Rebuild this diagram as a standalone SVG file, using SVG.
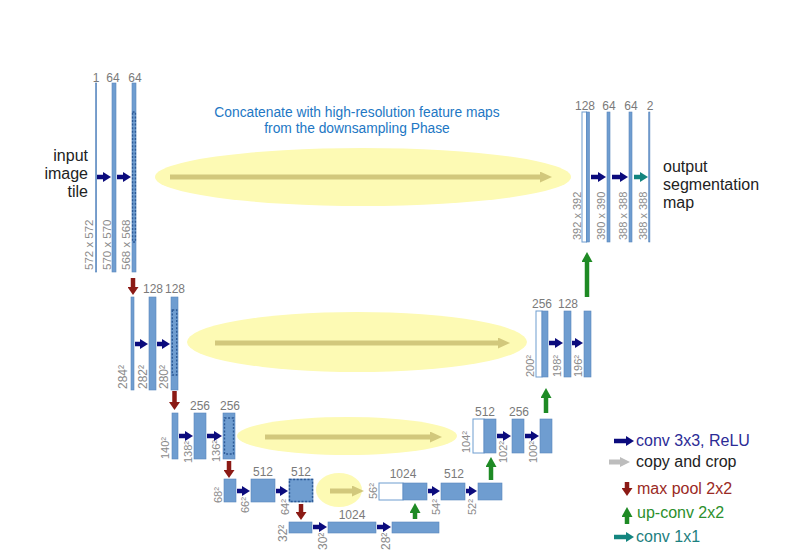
<svg xmlns="http://www.w3.org/2000/svg" width="800" height="552" viewBox="0 0 800 552">
<style>
.bar{fill:#6f9dd0;stroke:#5986bd;stroke-width:0.6}
.wbar{fill:#fff;stroke:#6f9dd0;stroke-width:1}
.dot{fill:none;stroke:#2d5a96;stroke-width:1.4;stroke-dasharray:2 1.6}
.cnt{font-family:"Liberation Sans",Arial,sans-serif;font-size:12px;fill:#7a7a7a;text-anchor:middle}
.dim{font-family:"Liberation Sans",Arial,sans-serif;font-size:11px;fill:#8a8a8a}
.lbl{font-family:"Liberation Sans",Arial,sans-serif;font-size:16px;fill:#222}
.ttl{font-family:"Liberation Sans",Arial,sans-serif;font-size:13.8px;fill:#2277c4;text-anchor:middle}
.ell{fill:#fdfab4}
.conv{stroke:#0b0b7d;stroke-width:4.5;fill:none}
.teal{stroke:#13857f;stroke-width:4.5;fill:none}
.pool{stroke:#8b1a15;stroke-width:4.5;fill:none}
.up{stroke:#1e8a24;stroke-width:4.5;fill:none}
.copy{stroke:#d2c87c;stroke-width:5;fill:none}
.lcopy{stroke:#bdbdbd;stroke-width:5;fill:none}
</style>
<defs>
<marker id="hConv" markerUnits="userSpaceOnUse" markerWidth="8" markerHeight="10" refX="0" refY="5" orient="auto" viewBox="0 0 8 10"><path d="M0,0L8,5L0,10z" fill="#0b0b7d"/></marker>
<marker id="hTeal" markerUnits="userSpaceOnUse" markerWidth="8" markerHeight="10" refX="0" refY="5" orient="auto" viewBox="0 0 8 10"><path d="M0,0L8,5L0,10z" fill="#13857f"/></marker>
<marker id="hPool" markerUnits="userSpaceOnUse" markerWidth="8" markerHeight="11" refX="0" refY="5.5" orient="auto" viewBox="0 0 8 11"><path d="M0,0L8,5.5L0,11z" fill="#8b1a15"/></marker>
<marker id="hUp" markerUnits="userSpaceOnUse" markerWidth="10" markerHeight="11" refX="0" refY="5.5" orient="auto" viewBox="0 0 10 11"><path d="M0,0L10,5.5L0,11z" fill="#1e8a24"/></marker>
<marker id="hCopy" markerUnits="userSpaceOnUse" markerWidth="12" markerHeight="11" refX="0" refY="5.5" orient="auto" viewBox="0 0 12 11"><path d="M0,0L12,5.5L0,11z" fill="#d2c87c"/></marker>
<marker id="hLCopy" markerUnits="userSpaceOnUse" markerWidth="10" markerHeight="10" refX="0" refY="5" orient="auto" viewBox="0 0 10 10"><path d="M0,0L10,5L0,10z" fill="#bdbdbd"/></marker>
</defs>

<g id="skip-ellipses">
<ellipse class="ell" cx="363" cy="177" rx="208" ry="29"/>
<ellipse class="ell" cx="357" cy="342" rx="170" ry="30"/>
<ellipse class="ell" cx="347" cy="436" rx="110" ry="19"/>
<ellipse class="ell" cx="339" cy="490" rx="23" ry="17"/>
</g>

<g id="title">
<text class="ttl" x="357" y="117">Concatenate with high-resolution feature maps</text>
<text class="ttl" x="357" y="133">from the downsampling Phase</text>
</g>

<g id="input-label">
<text class="lbl" x="88" y="161" text-anchor="end">input</text>
<text class="lbl" x="88" y="179" text-anchor="end">image</text>
<text class="lbl" x="88" y="197" text-anchor="end">tile</text>
</g>
<g id="output-label">
<text class="lbl" x="663" y="172">output</text>
<text class="lbl" x="663" y="190">segmentation</text>
<text class="lbl" x="663" y="208">map</text>
</g>

<!-- Level 1 contracting -->
<g id="l1a"><rect class="bar" x="95.5" y="83" width="1.2" height="189"/><text class="cnt" x="96" y="82">1</text><text class="dim" style="font-size:11.5px" transform="translate(93,270) rotate(-90)">572 x 572</text></g>
<g id="l1b"><rect class="bar" x="112" y="83" width="4" height="189"/><text class="cnt" x="113" y="82">64</text><text class="dim" style="font-size:11.5px" transform="translate(111,270) rotate(-90)">570 x 570</text></g>
<g id="l1c"><rect class="bar" x="132" y="83" width="4" height="189"/><rect class="dot" x="132.6" y="112" width="2.8" height="130"/><text class="cnt" x="135" y="82">64</text><text class="dim" style="font-size:11.5px" transform="translate(130,270) rotate(-90)">568 x 568</text></g>

<!-- Level 1 expanding -->
<g id="r1a"><rect class="wbar" x="582" y="112" width="4.5" height="130"/><rect class="bar" x="586.5" y="112" width="3" height="130"/><text class="cnt" x="585" y="110">128</text><text class="dim" transform="translate(581,240) rotate(-90)">392 x 392</text></g>
<g id="r1b"><rect class="bar" x="607" y="112" width="3" height="130"/><text class="cnt" x="609" y="110">64</text><text class="dim" transform="translate(605,240) rotate(-90)">390 x 390</text></g>
<g id="r1c"><rect class="bar" x="629" y="112" width="3" height="130"/><text class="cnt" x="631" y="110">64</text><text class="dim" transform="translate(627,240) rotate(-90)">388 x 388</text></g>
<g id="r1d"><rect class="bar" x="648.7" y="112" width="1.2" height="130"/><text class="cnt" x="650" y="110">2</text><text class="dim" transform="translate(647,240) rotate(-90)">388 x 388</text></g>

<!-- Level 2 -->
<g id="l2a"><rect class="bar" x="131" y="297" width="3" height="93"/><text class="dim" style="font-size:12px" transform="translate(127,389) rotate(-90)">284²</text></g>
<g id="l2b"><rect class="bar" x="149" y="297" width="7" height="93"/><text class="cnt" x="153" y="293">128</text><text class="dim" style="font-size:12px" transform="translate(147,389) rotate(-90)">282²</text></g>
<g id="l2c"><rect class="bar" x="171" y="297" width="7" height="93"/><rect class="dot" x="172.3" y="310" width="4.4" height="65"/><text class="cnt" x="175" y="293">128</text><text class="dim" style="font-size:12px" transform="translate(168,389) rotate(-90)">280²</text></g>
<g id="r2a"><rect class="wbar" x="536" y="311" width="6" height="66"/><rect class="bar" x="542" y="311" width="6" height="66"/><text class="cnt" x="542" y="308">256</text><text class="dim" transform="translate(534,377) rotate(-90)">200²</text></g>
<g id="r2b"><rect class="bar" x="564" y="311" width="7" height="66"/><text class="cnt" x="568" y="308">128</text><text class="dim" transform="translate(561,377) rotate(-90)">198²</text></g>
<g id="r2c"><rect class="bar" x="584" y="311" width="7" height="66"/><text class="dim" transform="translate(582,377) rotate(-90)">196²</text></g>

<!-- Level 3 -->
<g id="l3a"><rect class="bar" x="172" y="413" width="6" height="46"/><text class="dim" transform="translate(169,459) rotate(-90)">140²</text></g>
<g id="l3b"><rect class="bar" x="194" y="413" width="12" height="46"/><text class="cnt" x="200" y="410">256</text><text class="dim" transform="translate(192,463) rotate(-90)">138²</text></g>
<g id="l3c"><rect class="bar" x="223" y="413" width="12" height="46"/><rect class="dot" x="224.5" y="418" width="9" height="36"/><text class="cnt" x="230" y="410">256</text><text class="dim" transform="translate(220,462) rotate(-90)">136²</text></g>
<g id="r3a"><rect class="wbar" x="473" y="419" width="11" height="34"/><rect class="bar" x="484" y="419" width="12" height="34"/><text class="cnt" x="485" y="416">512</text><text class="dim" transform="translate(470,453) rotate(-90)">104²</text></g>
<g id="r3b"><rect class="bar" x="512" y="419" width="12" height="34"/><text class="cnt" x="519" y="416">256</text><text class="dim" transform="translate(507,463) rotate(-90)">102²</text></g>
<g id="r3c"><rect class="bar" x="540" y="419" width="12" height="34"/><text class="dim" transform="translate(537,463) rotate(-90)">100²</text></g>

<!-- Level 4 -->
<g id="l4a"><rect class="bar" x="224" y="479" width="12" height="23"/><text class="dim" transform="translate(222,503) rotate(-90)">68²</text></g>
<g id="l4b"><rect class="bar" x="251" y="479" width="24" height="23"/><text class="cnt" x="263" y="476">512</text><text class="dim" transform="translate(249,513) rotate(-90)">66²</text></g>
<g id="l4c"><rect class="bar" x="289" y="479" width="24" height="23"/><rect class="dot" x="289.5" y="479.5" width="23" height="22"/><text class="cnt" x="301" y="476">512</text><text class="dim" transform="translate(289,515) rotate(-90)">64²</text></g>
<g id="r4a"><rect class="wbar" x="379" y="483" width="24" height="17"/><rect class="bar" x="403" y="483" width="24" height="17"/><text class="cnt" x="403" y="478">1024</text><text class="dim" transform="translate(377,499) rotate(-90)">56²</text></g>
<g id="r4b"><rect class="bar" x="441" y="483" width="24" height="17"/><text class="cnt" x="454" y="478">512</text><text class="dim" transform="translate(440,515) rotate(-90)">54²</text></g>
<g id="r4c"><rect class="bar" x="478" y="483" width="24" height="17"/><text class="dim" transform="translate(476,515) rotate(-90)">52²</text></g>

<!-- Level 5 -->
<g id="l5a"><rect class="bar" x="289" y="522" width="23" height="11"/><text class="dim" style="font-size:12px" transform="translate(287,542) rotate(-90)">32²</text></g>
<g id="l5b"><rect class="bar" x="328" y="522" width="48" height="11"/><text class="cnt" x="352" y="519">1024</text><text class="dim" style="font-size:12px" transform="translate(327,550) rotate(-90)">30²</text></g>
<g id="l5c"><rect class="bar" x="392" y="522" width="47" height="11"/><text class="dim" style="font-size:12px" transform="translate(390,550) rotate(-90)">28²</text></g>

<g id="connectors">
<!-- copy and crop -->
<line class="copy" x1="170" y1="177" x2="540" y2="177" marker-end="url(#hCopy)"/>
<line class="copy" x1="215" y1="343" x2="498" y2="343" marker-end="url(#hCopy)"/>
<line class="copy" x1="265" y1="437" x2="430" y2="437" marker-end="url(#hCopy)"/>
<line class="copy" x1="330" y1="491" x2="352" y2="491" marker-end="url(#hCopy)"/>
<!-- conv 3x3 -->
<line class="conv" x1="97" y1="177" x2="103" y2="177" marker-end="url(#hConv)"/>
<line class="conv" x1="117" y1="177" x2="123" y2="177" marker-end="url(#hConv)"/>
<line class="conv" x1="591" y1="177" x2="598" y2="177" marker-end="url(#hConv)"/>
<line class="conv" x1="612" y1="177" x2="620" y2="177" marker-end="url(#hConv)"/>
<line class="conv" x1="135" y1="344" x2="140" y2="344" marker-end="url(#hConv)"/>
<line class="conv" x1="157" y1="344" x2="162" y2="344" marker-end="url(#hConv)"/>
<line class="conv" x1="549" y1="343" x2="555" y2="343" marker-end="url(#hConv)"/>
<line class="conv" x1="572" y1="343" x2="575" y2="343" marker-end="url(#hConv)"/>
<line class="conv" x1="179" y1="436" x2="185" y2="436" marker-end="url(#hConv)"/>
<line class="conv" x1="207" y1="436" x2="214" y2="436" marker-end="url(#hConv)"/>
<line class="conv" x1="497" y1="436" x2="503" y2="436" marker-end="url(#hConv)"/>
<line class="conv" x1="525" y1="436" x2="531" y2="436" marker-end="url(#hConv)"/>
<line class="conv" x1="237" y1="491" x2="242" y2="491" marker-end="url(#hConv)"/>
<line class="conv" x1="276" y1="491" x2="280" y2="491" marker-end="url(#hConv)"/>
<line class="conv" x1="428" y1="491" x2="432" y2="491" marker-end="url(#hConv)"/>
<line class="conv" x1="466" y1="491" x2="469" y2="491" marker-end="url(#hConv)"/>
<line class="conv" x1="313" y1="527" x2="319" y2="527" marker-end="url(#hConv)"/>
<line class="conv" x1="377" y1="527" x2="383" y2="527" marker-end="url(#hConv)"/>
<!-- conv 1x1 -->
<line class="teal" x1="634" y1="177" x2="640" y2="177" marker-end="url(#hTeal)"/>
<!-- max pool -->
<line class="pool" x1="133" y1="278" x2="133" y2="287" marker-end="url(#hPool)"/>
<line class="pool" x1="174.5" y1="391" x2="174.5" y2="402" marker-end="url(#hPool)"/>
<line class="pool" x1="229" y1="461" x2="229" y2="470" marker-end="url(#hPool)"/>
<line class="pool" x1="301" y1="504" x2="301" y2="512" marker-end="url(#hPool)"/>
<!-- up-conv -->
<line class="up" x1="415" y1="519" x2="415" y2="513" marker-end="url(#hUp)"/>
<line class="up" x1="491" y1="480" x2="491" y2="467" marker-end="url(#hUp)"/>
<line class="up" x1="546" y1="413" x2="546" y2="398" marker-end="url(#hUp)"/>
<line class="up" x1="587" y1="297" x2="587" y2="262" marker-end="url(#hUp)"/>
</g>

<g id="legend">
<line class="conv" x1="614" y1="441" x2="626" y2="441" marker-end="url(#hConv)"/>
<text class="lbl" x="636" y="446" style="fill:#2b2b96">conv 3x3, ReLU</text>
<line class="lcopy" x1="609" y1="462" x2="620" y2="462" marker-end="url(#hLCopy)"/>
<text class="lbl" x="636" y="467">copy and crop</text>
<line class="pool" x1="627" y1="482" x2="627" y2="488" marker-end="url(#hPool)"/>
<text class="lbl" x="637" y="494" style="fill:#9a2a24">max pool 2x2</text>
<line class="up" x1="627" y1="524" x2="627" y2="517" marker-end="url(#hUp)"/>
<text class="lbl" x="637" y="518" style="fill:#2c8f2c">up-conv 2x2</text>
<line class="teal" x1="614" y1="537" x2="626" y2="537" marker-end="url(#hTeal)"/>
<text class="lbl" x="636" y="542" style="fill:#1d8080">conv 1x1</text>
</g>
</svg>
